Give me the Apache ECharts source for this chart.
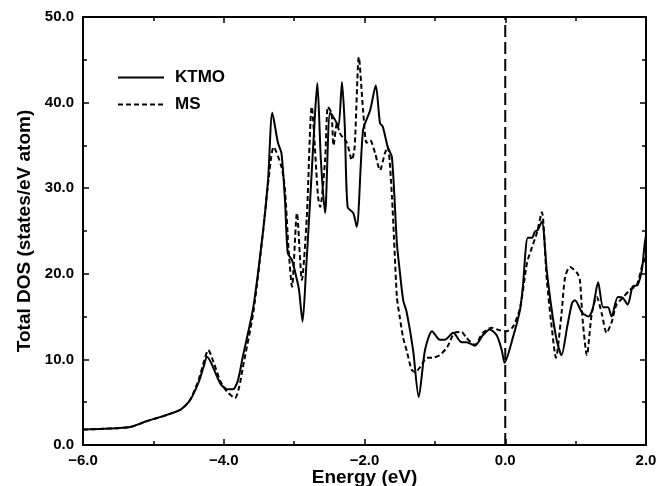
<!DOCTYPE html>
<html><head><meta charset="utf-8">
<script src="https://cdn.jsdelivr.net/npm/echarts@6/dist/echarts.min.js"></script>
<style>html,body{margin:0;padding:0;background:#fff}#c{width:670px;height:486px}</style>
</head><body><div id="c"></div>
<script>
const ktmoX = [-6.00,-5.70,-5.33,-5.09,-4.85,-4.62,-4.50,-4.44,-4.35,-4.28,-4.24,-4.18,-4.05,-3.95,-3.87,-3.80,-3.73,-3.58,-3.44,-3.37,-3.31,-3.23,-3.18,-3.13,-3.09,-3.03,-2.96,-2.93,-2.88,-2.83,-2.78,-2.70,-2.67,-2.62,-2.56,-2.49,-2.42,-2.37,-2.32,-2.28,-2.24,-2.16,-2.11,-2.02,-1.92,-1.84,-1.78,-1.74,-1.67,-1.61,-1.54,-1.50,-1.45,-1.40,-1.31,-1.23,-1.14,-1.04,-0.93,-0.86,-0.74,-0.62,-0.55,-0.43,-0.32,-0.22,-0.12,-0.05,-0.01,0.11,0.21,0.25,0.32,0.38,0.42,0.46,0.52,0.59,0.66,0.73,0.80,0.88,0.95,0.99,1.09,1.18,1.24,1.32,1.39,1.46,1.51,1.60,1.67,1.74,1.81,1.88,1.94,1.98,2.00];
const ktmoY = [1.8,1.9,2.1,2.8,3.4,4.1,5.0,5.8,7.5,9.3,10.3,9.6,7.2,6.5,6.5,7.5,10.3,16.1,25.1,31.0,38.8,35.3,34.1,28.6,22.4,21.6,19.3,18.1,14.4,20.5,27.5,39.1,42.3,33.3,27.1,38.8,38.0,37.2,42.4,37.2,27.8,27.1,25.5,36.8,39.1,42.0,37.6,37.2,34.8,33.6,23.6,20.4,16.9,15.5,11.1,5.6,11.1,13.3,12.3,12.3,13.1,12.0,12.0,11.6,12.8,13.5,12.8,11.1,9.6,12.6,15.8,18.5,24.2,24.2,24.9,25.1,26.1,20.4,15.8,12.3,10.5,13.8,16.6,16.9,15.5,15.0,15.8,19.0,16.1,16.1,15.0,17.3,17.2,16.4,18.5,18.7,20.4,23.4,24.5];
const msX = [-6.00,-5.70,-5.33,-5.09,-4.85,-4.62,-4.50,-4.44,-4.35,-4.28,-4.22,-4.15,-4.05,-3.95,-3.84,-3.78,-3.73,-3.58,-3.44,-3.37,-3.29,-3.18,-3.13,-3.08,-3.03,-2.96,-2.89,-2.82,-2.75,-2.66,-2.63,-2.56,-2.52,-2.47,-2.44,-2.39,-2.35,-2.25,-2.18,-2.14,-2.08,-2.02,-1.97,-1.92,-1.85,-1.78,-1.71,-1.67,-1.61,-1.54,-1.50,-1.45,-1.40,-1.33,-1.28,-1.21,-1.11,-1.04,-0.93,-0.82,-0.72,-0.62,-0.55,-0.43,-0.32,-0.19,-0.08,0.02,0.11,0.21,0.31,0.38,0.45,0.52,0.59,0.66,0.72,0.80,0.85,0.92,1.02,1.06,1.10,1.16,1.23,1.30,1.37,1.44,1.51,1.58,1.67,1.77,1.87,1.94,2.00];
const msY = [1.8,1.9,2.1,2.8,3.4,4.1,5.0,5.9,7.8,9.8,11.1,9.8,7.5,6.2,5.5,6.8,9.0,15.5,25.0,30.5,34.8,32.5,29.8,23.0,18.5,27.1,19.3,26.6,39.5,29.0,27.8,33.3,39.5,38.8,35.0,37.6,36.4,35.3,33.3,34.8,45.3,39.1,35.3,35.6,34.1,32.1,34.1,34.8,29.0,17.3,15.0,12.5,11.0,8.8,8.5,9.1,10.2,10.2,10.5,11.5,13.1,13.2,12.5,11.7,13.1,13.7,13.4,13.3,13.8,16.0,21.3,23.1,24.8,27.2,19.3,13.8,10.2,15.4,19.6,20.8,20.1,19.3,14.6,10.5,15.4,17.3,15.4,13.1,14.3,16.4,17.2,18.1,18.7,20.8,22.0];
const fermiX = [0, 0];
const fermiY = [0, 50];
const xTicks = {min: -6, max: 2, interval: 2};
const yTicks = {min: 0, max: 50, interval: 10};

const zip = (a, b) => a.map((v, i) => [v, b[i]]);
const FONT = '"Liberation Sans", Arial, sans-serif';
const fmt = v => (v < 0 ? '\u2212' : '') + Math.abs(v).toFixed(1);
const axisBase = {
  type: 'value',
  axisLine: {show: true, onZero: false, lineStyle: {color: '#000', width: 2}},
  axisTick: {show: true, inside: true, length: 6, lineStyle: {color: '#000', width: 1.5}},
  minorTick: {show: true, splitNumber: 2, length: 4, lineStyle: {color: '#000', width: 1.5}},
  splitLine: {show: false},
  minorSplitLine: {show: false}
};
const chart = echarts.init(document.getElementById('c'), null, {renderer: 'canvas'});
chart.setOption({
  animation: false,
  backgroundColor: '#fff',
  grid: {left: 83, right: 24, top: 17, bottom: 41, containLabel: false, outerBoundsMode: 'none'},
  legend: {
    data: ['KTMO', 'MS'],
    orient: 'vertical', left: 112, top: 64, itemGap: 10,
    itemWidth: 46, itemHeight: 14,
    itemStyle: {opacity: 0},
    textStyle: {fontFamily: FONT, fontWeight: 'bold', fontSize: 17, color: '#000', padding: [0, 0, 0, 6]}
  },
  xAxis: [
    Object.assign({}, axisBase, xTicks, {
      position: 'bottom',
      name: 'Energy (eV)', nameLocation: 'middle', nameGap: 23, nameMoveOverlap: false,
      nameTextStyle: {fontFamily: FONT, fontWeight: 'bold', fontSize: 19, color: '#000'},
      axisLabel: {formatter: fmt, fontFamily: FONT, fontWeight: 'bold', fontSize: 15, color: '#000', margin: 8}
    }),
    Object.assign({}, axisBase, xTicks, {position: 'top', axisLabel: {show: false}})
  ],
  yAxis: [
    Object.assign({}, axisBase, yTicks, {
      position: 'left',
      name: 'Total DOS (states/eV atom)', nameLocation: 'middle', nameGap: 45,
      nameTextStyle: {fontFamily: FONT, fontWeight: 'bold', fontSize: 19, color: '#000'},
      axisLabel: {formatter: fmt, fontFamily: FONT, fontWeight: 'bold', fontSize: 15, color: '#000', margin: 9}
    }),
    Object.assign({}, axisBase, yTicks, {position: 'right', axisLabel: {show: false}})
  ],
  series: [
    {
      name: 'KTMO', type: 'line', data: zip(ktmoX, ktmoY), showSymbol: false, symbol: 'none',
      smooth: 0.25, lineStyle: {color: '#000', width: 2}, itemStyle: {color: '#000'}
    },
    {
      name: 'MS', type: 'line', data: zip(msX, msY), showSymbol: false, symbol: 'none',
      smooth: 0.25, lineStyle: {color: '#000', width: 2, type: [5, 3]}, itemStyle: {color: '#000'}
    },
    {
      name: 'Fermi', type: 'line', data: zip(fermiX, fermiY), showSymbol: false, symbol: 'none',
      lineStyle: {color: '#000', width: 2, type: [12, 5]}, silent: true
    }
  ]
});
</script></body></html>
